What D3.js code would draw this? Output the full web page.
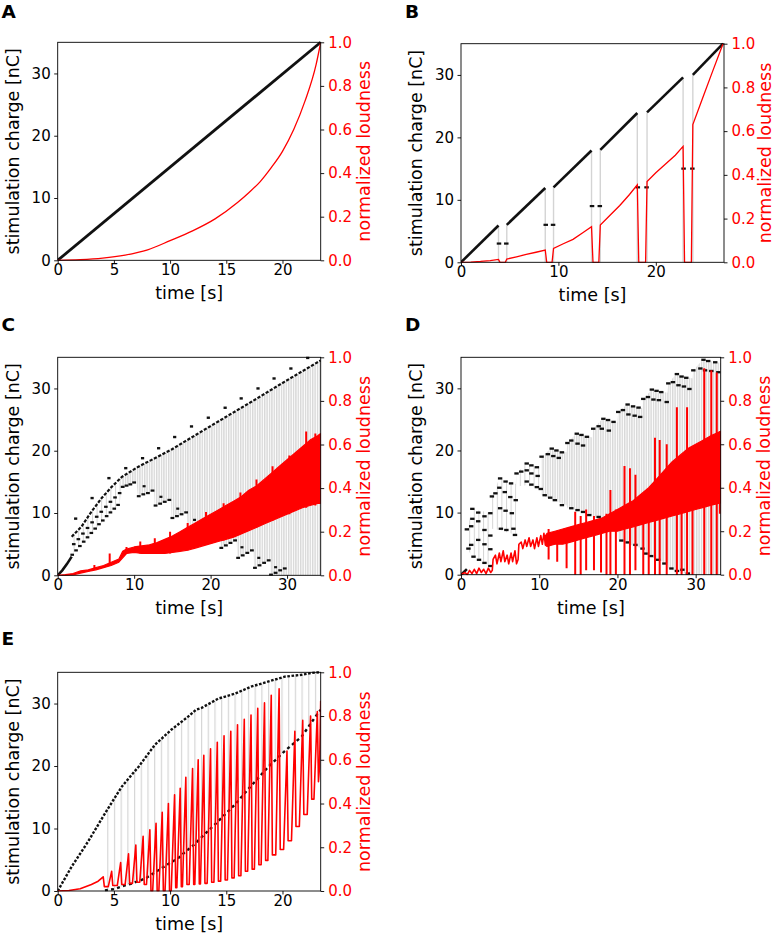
<!DOCTYPE html>
<html>
<head>
<meta charset="utf-8">
<script src="https://cdn.jsdelivr.net/npm/d3@7"></script>
<style>
body { margin: 0; background: #fff; }
svg text { font-family: "DejaVu Sans", sans-serif; }
</style>
</head>
<body>
<div id="chart"></div>
<script>
// ---------------- data ----------------
// A: linear ramp
var aStim = [[0, 0], [23.4, 35]];
var aLoudT = [0,2,4,6,8,10,12,14,16,17,18,19,20,21,22,23,23.4];
var aLoudL = [0,0.003,0.01,0.024,0.048,0.09,0.135,0.19,0.265,0.31,0.36,0.425,0.5,0.6,0.73,0.9,1.0];

// B: ramps with pauses  [t0, q0, t1, q1]
var bSegs = [[0,0,3.85,5.9],[4.7,6.0,8.65,11.9],[9.5,12.0,13.4,17.9],[14.3,18.0,18.1,23.9],[19.1,24.0,22.8,29.6],[23.8,30.0,26.9,35.0]];
var bGapT = [[3.9,4.65],[8.7,9.45],[13.45,14.25],[18.15,19.05],[22.85,23.75]];
var bGapQ = [3, 6, 9, 12, 15];
var bLoud = [[0,0],[1,0.001],[2,0.004],[3,0.008],[3.85,0.013],[4.0,0],[4.55,0],[4.7,0.015],[5.7,0.025],[6.7,0.036],[7.7,0.046],[8.65,0.056],[8.8,0],[9.35,0],[9.5,0.064],[10.5,0.085],[11.5,0.105],[12.5,0.135],[13.4,0.163],[13.55,0],[14.15,0],[14.3,0.17],[15.3,0.215],[16.3,0.26],[17.3,0.31],[18.1,0.354],[18.25,0],[18.95,0],[19.1,0.369],[20.0,0.41],[21.0,0.45],[22.0,0.49],[22.8,0.53],[22.95,0],[23.65,0],[23.8,0.63],[24.8,0.75],[25.8,0.87],[26.9,1.0]];

// C
var cRamp = [[0,0],[0.6,0.8],[1.2,1.8],[1.83,3.0]];
var cUpper = [[1.83,6.2],[3.1,7.8],[4.4,10.2],[5.75,12.4],[7.06,14.2],[8.4,15.8],[10.5,17.4],[12.7,18.8],[14.9,20.2],[16.65,21.5],[21.0,24.7],[25.4,27.9],[29.7,31.1],[34.4,34.5]];
var cUpperDots = [[2.35,9.1],[4.5,12.4],[6.7,15.6],[8.9,17.2],[11.1,18.8],[13.2,20.4],[15.3,22.2],[17.5,23.9],[19.7,25.3],[21.9,26.9],[24.0,28.4],[26.2,30.0],[28.3,31.6],[30.5,33.2],[32.7,34.9]];
var cRow2 = [[2.1,5.0],[2.7,5.8],[3.3,6.7],[3.9,7.6],[4.5,8.5],[5.1,9.4],[5.7,10.2],[6.3,11.0],[6.9,11.8],[7.5,12.5],[8.1,13.2]];
var cMiddle = [[1.9,3.3],[2.4,4.0],[2.9,4.7],[3.4,5.4],[3.9,6.1],[4.4,6.8],[4.9,7.5],[5.4,8.2],[5.9,8.8],[6.4,9.5],[6.9,10.1],[7.4,10.7],[7.9,11.3]];
var cLower = [[8.5,14.2],[9.0,14.4],[9.5,14.6],[10.0,14.9],
  [10.6,12.7],[11.2,13.0],[11.8,13.2],[12.4,13.6],
  [12.8,11.2],[13.4,11.5],[14.0,11.8],[14.6,12.1],
  [15.0,9.2],[15.6,9.5],[16.2,9.8],[16.8,10.1],
  [17.1,7.4],[17.7,7.7],[18.3,8.0],[18.9,8.3],
  [19.3,5.9],[19.9,6.2],[20.5,6.5],[21.0,6.8],
  [21.4,4.4],[22.0,4.8],[22.6,5.2],[23.2,5.6],
  [23.6,2.8],[24.2,3.2],[24.8,3.6],[25.4,4.0],
  [25.8,1.2],[26.4,1.6],[27.0,2.0],[27.6,2.4],
  [27.9,0.1],[28.5,0.4],[29.1,0.8],[29.7,1.1]];
var cLowerDots = [[11.3,14.3],[13.5,12.6],[15.7,10.7],[17.9,8.9],[24.1,4.5],[26.3,2.8],[28.5,1.3]];
var cGrayBottomEarly = [[1.83,3.3],[8.1,11.6],[8.4,14.2]];
var cGrayBottomLate = [[8.4,14.2],[10.3,15.0],[10.5,12.7],[12.6,13.6],[12.7,11.2],[14.8,12.1],[14.9,9.2],[16.9,10.1],[17.0,7.4],[19.1,8.3],[19.2,5.9],[21.2,6.8],[21.3,4.4],[23.4,5.6],[23.5,2.8],[25.6,4.0],[25.7,1.2],[27.8,2.4],[27.85,0],[34.4,0]];
var cLoudT  = [0,1,2,3,4,5,6,7,8,8.5,9,10,11,12,13,14,15,16,17,18,19,20,21,22,23,24,25,26,27,28,29,30,31,32,33,34,34.4];
var cLoudHi = [0,0.003,0.008,0.02,0.025,0.035,0.045,0.06,0.075,0.11,0.12,0.13,0.135,0.14,0.15,0.165,0.18,0.2,0.22,0.24,0.26,0.28,0.3,0.32,0.34,0.36,0.39,0.41,0.44,0.47,0.5,0.53,0.56,0.59,0.62,0.64,0.65];
var cLoudLo = [0,0,0.002,0.01,0.018,0.025,0.035,0.045,0.06,0.08,0.1,0.105,0.1,0.1,0.1,0.1,0.105,0.11,0.115,0.125,0.135,0.145,0.155,0.165,0.175,0.19,0.205,0.22,0.235,0.25,0.265,0.28,0.295,0.31,0.32,0.33,0.33];
// [t, bottom, top]
var cSpikes = [[4.8,0.025,0.047],[6.8,0.045,0.1],[9.0,0.1,0.13],[10.8,0.1,0.155],[12.7,0.1,0.17],[14.7,0.1,0.2],[17.0,0.115,0.24],[19.4,0.14,0.29],[21.7,0.16,0.33],[23.9,0.19,0.38],[26.0,0.22,0.44],[28.1,0.25,0.5],[30.3,0.28,0.55],[32.5,0.31,0.66],[33.7,0.32,0.65]];

// D
var dRamp = [[0,0],[0.75,0.9]];
var dDashes = [
  [0.75,7.3],[1.3,7.8],[1.45,10.6],[2.2,10.0],[3.0,9.4],[3.75,9.9],
  [1.45,9.0],[2.2,8.6],[3.0,7.2],[3.75,6.3],
  [0.95,4.2],[1.3,4.8],[2.2,5.6],[3.0,4.9],[3.75,4.1],
  [1.6,2.9],[2.3,2.4],[3.0,1.9],[3.75,1.4],
  [3.95,12.6],[4.4,13.1],[5.0,15.5],[5.7,15.0],[6.4,14.7],
  [4.9,14.0],[5.6,13.3],[6.3,12.5],[7.0,12.0],
  [5.0,10.7],[5.7,10.3],[6.5,9.9],
  [5.1,7.4],[5.8,7.2],[6.7,7.4],[6.9,6.4],
  [7.1,16.3],[7.7,16.6],[8.4,17.9],[9.0,17.6],[9.7,17.3],
  [8.4,16.8],[9.0,16.3],[9.8,15.9],
  [8.4,15.0],[9.0,14.5],[9.7,14.1],[10.2,13.8],
  [10.3,19.0],[11.1,19.4],[11.6,20.3],[12.2,20.0],[12.9,19.7],
  [11.8,19.1],[12.5,18.8],
  [10.7,12.8],[11.4,12.4],[12.0,12.0],[12.9,11.2],
  [13.6,21.2],[14.1,21.6],[14.8,22.7],[15.4,22.5],[16.1,22.2],
  [14.9,21.1],[15.6,20.8],
  [14.1,10.7],[14.9,10.4],[15.6,10.1],[16.4,9.6],
  [16.9,23.5],[17.6,23.9],[18.2,25.1],[18.8,24.9],[19.5,24.6],
  [18.0,23.5],[18.9,23.2],
  [17.6,9.3],[18.6,8.6],[19.2,8.0],[19.8,7.5],
  [20.1,26.2],[20.7,26.5],[21.3,27.4],[22.0,27.1],[22.7,26.9],
  [21.4,25.8],[22.2,25.6],[22.9,25.4],
  [20.5,5.5],[21.3,5.2],[22.3,4.8],[23.2,4.2],
  [23.3,28.3],[23.9,28.6],[24.4,29.8],[25.0,29.6],[25.6,29.4],
  [24.6,28.2],[25.3,28.1],[26.3,27.8],
  [23.6,3.4],[24.3,3.0],[25.2,2.4],[26.0,1.8],
  [26.5,30.8],[27.1,31.0],[27.6,32.3],[28.2,31.9],[28.8,31.7],
  [27.8,30.5],[28.5,30.3],[29.2,29.9],
  [26.9,1.0],[27.6,0.6],[28.3,0.8],[29.0,0.2],
  [29.7,32.9],[30.6,33.2],[31.0,34.6],[31.6,34.4],[32.5,34.2],
  [31.2,32.9],[32.0,32.8],[32.9,32.6]
];
var dGrayT   = [0.8,1.4,3.9,3.95,4.9,7.0,7.1,8.3,10.2,10.3,11.5,13.5,13.6,14.7,16.8,16.9,18.1,20.0,20.1,21.2,23.2,23.3,24.4,26.4,26.5,27.5,29.6,29.7,30.9,33.2];
var dGrayTop = [7.3,10.6,9.9,12.6,15.5,14.6,16.3,17.9,17.3,19.0,20.3,19.7,21.2,22.7,22.1,23.5,25.1,24.5,26.2,27.4,26.8,28.3,29.8,29.3,30.8,32.3,31.6,32.9,34.6,34.1];
var dGrayBot = [4.3,2.9,1.4,7.4,7.2,6.4,14.2,14.4,13.8,12.8,12.2,11.2,10.7,10.4,9.6,9.3,8.8,7.5,5.6,5.0,4.2,3.4,2.8,1.8,1.0,0.5,0,0,0,0];
// early jagged loudness trace (t < 10.8)
var dLoudEarly = [[0,0],[0.5,0.01],[0.8,0],[1.1,0.02],[1.4,0.005],[1.7,0.025],[2.0,0.005],[2.3,0.03],[2.6,0.01],[2.9,0.025],[3.2,0.005],[3.5,0.03],[3.8,0.01],[4.0,0.02],
  [4.1,0.07],[4.4,0.09],[4.6,0.05],[4.9,0.1],[5.1,0.06],[5.4,0.11],[5.6,0.06],[5.9,0.09],[6.1,0.05],[6.4,0.1],[6.6,0.06],[6.9,0.11],[7.1,0.05],[7.3,0.07],
  [7.4,0.14],[7.7,0.15],[7.9,0.12],[8.2,0.16],[8.4,0.13],[8.7,0.17],[8.9,0.13],[9.2,0.16],[9.4,0.12],[9.7,0.17],[9.9,0.13],[10.2,0.18],[10.4,0.14],[10.6,0.19],[10.8,0.135]];
var dLoudT  = [10.8,11,12,13,14,15,16,17,18,19,20,21,22,23,24,25,26,27,28,29,30,31,32,33.2];
var dLoudHi = [0.18,0.19,0.2,0.21,0.22,0.23,0.24,0.25,0.26,0.28,0.3,0.32,0.34,0.37,0.4,0.44,0.48,0.52,0.55,0.58,0.6,0.62,0.64,0.66];
var dLoudLo = [0.135,0.13,0.14,0.14,0.15,0.16,0.17,0.18,0.19,0.2,0.2,0.21,0.22,0.23,0.24,0.25,0.26,0.27,0.28,0.29,0.3,0.31,0.32,0.33];
var dSpikes = [[11.2,0.07,0.21],[12.3,0.06,0.2],[13.5,0.03,0.2],[14.6,0,0.29],[15.3,0,0.27],[16.0,0.02,0.3],[17.0,0.02,0.27],[17.9,0.01,0.26],[18.6,0,0.28],[19.1,0,0.39],[19.8,0,0.3],[20.9,0,0.5],[21.6,0,0.49],[22.3,0.02,0.46],[23.3,0,0.34],[24.0,0,0.37],[24.8,0,0.63],[25.4,0,0.62],[26.3,0,0.6],[27.6,0,0.77],[28.2,0,0.5],[28.9,0,0.77],[29.6,0,0.55],[31.1,0,0.95],[32.0,0,0.94],[32.7,0,0.93],[33.1,0.28,0.66]];

// E
var eUpper = [[0,0],[1.24,3.9],[2.7,7.9],[4.2,12.4],[5.7,16.7],[7.2,19.9],[8.65,23.4],[10.1,25.8],[11.6,27.9],[12.3,29.0],[12.8,29.3],[14.3,30.8],[15.8,31.6],[17.2,32.7],[18.7,33.5],[20.2,34.3],[21.7,34.6],[22.6,34.9],[23.3,35.0]];
var eLower = [[4.2,0.1],[5.0,0.3],[5.8,0.8],[6.6,1.2],[7.8,2.0],[8.5,2.8],[9.2,3.6],[10.0,4.5],[10.7,5.2],[11.3,6.2],[12.0,7.2],[12.8,8.6],[14.3,11.2],[15.8,13.9],[17.2,16.8],[18.7,19.8],[20.2,22.4],[21.7,24.7],[22.9,27.8],[23.4,29.0]];
var eRise = [[0,0],[1,0.002],[2,0.01],[3,0.03],[3.6,0.045]];
// [t, top, bottom]
var eSpikes = [[4.05,0.065,0.02],[4.8,0.09,0.025],[5.6,0.13,0.03],[6.3,0.17,0.035],[6.95,0.21,0.04],[7.6,0.25,0.03],[8.2,0.28,0],[8.75,0.31,0],[9.3,0.36,0],[9.85,0.40,0],[10.4,0.44,0.015],[10.9,0.47,0.02],[11.4,0.52,0.03],[12.0,0.56,0.03],[12.5,0.60,0.032],[13.0,0.62,0.035],[13.6,0.65,0.04],[14.2,0.68,0.045],[14.8,0.71,0.05],[15.4,0.73,0.06],[16.0,0.76,0.07],[16.6,0.785,0.09],[17.2,0.805,0.10],[17.8,0.835,0.12],[18.4,0.86,0.14],[19.0,0.895,0.165],[19.7,0.925,0.19],[20.4,0.64,0.23],[21.1,0.73,0.295],[21.8,0.78,0.35],[22.5,0.80,0.42],[23.1,0.82,0.5]];
var eEnd = [[23.3,0.57],[23.4,0.87]];

var chargeTicks = [0, 10, 20, 30];
var loudTicks = [0, 0.2, 0.4, 0.6, 0.8, 1.0];

// ---------------- layout ----------------
var frames = {
  A: {x0: 57.7, x1: 320.7, y0: 42.3, y1: 260.3, tMax: 23.4, ticks: [0,5,10,15,20], lx: 1.5, ly: 18.3, rOff: 49},
  B: {x0: 461, x1: 724, y0: 43.7, y1: 262.3, tMax: 27.0, ticks: [0,10,20], lx: 405, ly: 18.3, rOff: 46.5},
  C: {x0: 57.7, x1: 320.7, y0: 357.3, y1: 575.3, tMax: 34.4, ticks: [0,10,20,30], lx: 1.5, ly: 331, rOff: 49},
  D: {x0: 461, x1: 720.7, y0: 357.3, y1: 574.7, tMax: 33.2, ticks: [0,10,20,30], lx: 405, ly: 331, rOff: 49},
  E: {x0: 57.7, x1: 320.7, y0: 672.3, y1: 891, tMax: 23.4, ticks: [0,5,10,15,20], lx: 1.5, ly: 645, rOff: 49}
};

var RED = "#ff0000", INK = "#111";

var svg = d3.select("#chart").append("svg")
  .attr("width", 775)
  .attr("height", 936);
var defs = svg.append("defs");

function stripes(id, w, lw, color) {
  defs.append("pattern").attr("id", id)
    .attr("patternUnits", "userSpaceOnUse")
    .attr("width", w).attr("height", 10)
    .append("rect").attr("width", lw).attr("height", 10).attr("fill", color);
}
stripes("dense", 2.4, 1.4, "#d8d8d8");
stripes("sparse", 4.6, 1.0, "#d4d4d4");
stripes("eLines", 6.7, 1.2, "#d6d6d6");

function makePanel(key) {
  var f = frames[key];
  var p = {key: key, f: f};
  p.x = d3.scaleLinear().domain([0, f.tMax]).range([f.x0, f.x1]);
  p.q = d3.scaleLinear().domain([0, 35]).range([f.y1, f.y0]);
  p.L = d3.scaleLinear().domain([0, 1]).range([f.y1, f.y0]);
  defs.append("clipPath").attr("id", "clip" + key).append("rect")
    .attr("x", f.x0).attr("y", f.y0 - 1.5)
    .attr("width", f.x1 - f.x0).attr("height", f.y1 - f.y0 + 2);
  p.g = svg.append("g").attr("clip-path", "url(#clip" + key + ")");
  p.qLine = d3.line().x(d => p.x(d[0])).y(d => p.q(d[1]));
  p.lLine = d3.line().x(d => p.x(d[0])).y(d => p.L(d[1]));
  return p;
}

function grayPoly(p, top, bottom, fill) {
  p.g.append("path")
    .attr("d", p.qLine(top.concat(bottom.slice().reverse())) + "Z")
    .attr("fill", fill);
}

function dashPath(p, pts, w, dash) {
  p.g.append("path").datum(pts)
    .attr("d", p.qLine)
    .attr("fill", "none")
    .attr("stroke", INK)
    .attr("stroke-width", w)
    .attr("stroke-dasharray", dash);
}

function marks(p, pts, w, h) {
  p.g.selectAll(null).data(pts).enter().append("rect")
    .attr("x", d => p.x(d[0]) - w / 2)
    .attr("y", d => p.q(d[1]) - h / 2)
    .attr("width", w).attr("height", h)
    .attr("fill", INK);
}

function redBand(p, T, hi, lo) {
  var pts = T.map((t, i) => [t, lo[i], hi[i]]);
  var area = d3.area().x(d => p.x(d[0])).y0(d => p.L(d[1])).y1(d => p.L(d[2]));
  p.g.append("path").datum(pts).attr("d", area)
    .attr("fill", RED).attr("stroke", RED).attr("stroke-width", 1.2)
    .attr("stroke-linejoin", "round");
}

function redSpikes(p, spikes) {
  p.g.selectAll(null).data(spikes).enter().append("line")
    .attr("x1", d => p.x(d[0])).attr("x2", d => p.x(d[0]))
    .attr("y1", d => p.L(d[1])).attr("y2", d => p.L(d[2]))
    .attr("stroke", RED).attr("stroke-width", 2);
}

function drawAxes(p) {
  var f = p.f;
  var ax = svg.append("g");
  ax.append("rect")
    .attr("x", f.x0).attr("y", f.y0)
    .attr("width", f.x1 - f.x0).attr("height", f.y1 - f.y0)
    .attr("fill", "none").attr("stroke", "#000").attr("stroke-width", 0.9);

  var bx = ax.append("g").attr("transform", `translate(0,${f.y1})`)
    .call(d3.axisBottom(p.x).tickValues(f.ticks).tickSize(3.5).tickPadding(1).tickFormat(d3.format("d")));
  var ly = ax.append("g").attr("transform", `translate(${f.x0},0)`)
    .call(d3.axisLeft(p.q).tickValues(chargeTicks).tickSize(3.5).tickPadding(3.5).tickFormat(d3.format("d")));
  var ry = ax.append("g").attr("transform", `translate(${f.x1},0)`)
    .call(d3.axisRight(p.L).tickValues(loudTicks).tickSize(3.5).tickPadding(4).tickFormat(d3.format(".1f")));
  [bx, ly, ry].forEach(function(a) {
    a.select(".domain").remove();
    a.attr("font-size", 15).attr("font-family", "DejaVu Sans").attr("color", "#000");
    a.selectAll("line").attr("stroke-width", 0.9);
  });
  ry.selectAll("text").attr("fill", RED);

  ax.append("text")
    .attr("x", (f.x0 + f.x1) / 2).attr("y", f.y1 + 39)
    .attr("text-anchor", "middle").attr("font-size", 17.5).attr("fill", "#000")
    .text("time [s]");
  ax.append("text")
    .attr("transform", `translate(${f.x0 - 39},${(f.y0 + f.y1) / 2}) rotate(-90)`)
    .attr("text-anchor", "middle").attr("font-size", 17.5).attr("fill", "#000")
    .text("stimulation charge [nC]");
  ax.append("text")
    .attr("transform", `translate(${f.x1 + f.rOff},${(f.y0 + f.y1) / 2}) rotate(-90)`)
    .attr("text-anchor", "middle").attr("font-size", 17.5).attr("fill", RED)
    .text("normalized loudness");
  ax.append("text")
    .attr("x", f.lx).attr("y", f.ly)
    .attr("font-family", "'Open Sans', 'DejaVu Sans', sans-serif")
    .attr("font-weight", 700).attr("font-size", 18.5).attr("fill", "#000")
    .text(p.key);
}

// ---------------- A ----------------
var pA = makePanel("A");
pA.g.append("path").datum(aStim).attr("d", pA.qLine)
  .attr("fill", "none").attr("stroke", INK).attr("stroke-width", 2.8);
pA.g.append("path").datum(aLoudT.map((t, i) => [t, aLoudL[i]]))
  .attr("d", pA.lLine.curve(d3.curveMonotoneX))
  .attr("fill", "none").attr("stroke", RED).attr("stroke-width", 1.3);
drawAxes(pA);

// ---------------- B ----------------
var pB = makePanel("B");
var bGray = bSegs.slice(0, -1).map(s => [s[2], s[3]])
  .concat(bSegs.slice(1).map(s => [s[0], s[1]]));
pB.g.selectAll(null).data(bGray).enter().append("line")
  .attr("x1", d => pB.x(d[0])).attr("x2", d => pB.x(d[0]))
  .attr("y1", pB.q(0)).attr("y2", d => pB.q(d[1]))
  .attr("stroke", "#d4d4d4").attr("stroke-width", 1.4);
pB.g.selectAll(null).data(bSegs).enter().append("line")
  .attr("x1", d => pB.x(d[0])).attr("y1", d => pB.q(d[1]))
  .attr("x2", d => pB.x(d[2])).attr("y2", d => pB.q(d[3]))
  .attr("stroke", INK).attr("stroke-width", 2.6);
var bGapMarks = [];
bGapT.forEach(function(pair, i) { pair.forEach(t => bGapMarks.push([t, bGapQ[i]])); });
marks(pB, bGapMarks, 4.5, 2.2);
pB.g.append("path").datum(bLoud).attr("d", pB.lLine)
  .attr("fill", "none").attr("stroke", RED).attr("stroke-width", 1.3);
drawAxes(pB);

// ---------------- C ----------------
var pC = makePanel("C");
grayPoly(pC, cUpper.filter(d => d[0] <= 8.4), cGrayBottomEarly, "url(#sparse)");
grayPoly(pC, cUpper.filter(d => d[0] >= 8.4), cGrayBottomLate, "url(#dense)");
pC.g.append("path").datum(cRamp).attr("d", pC.qLine)
  .attr("fill", "none").attr("stroke", INK).attr("stroke-width", 2.6);
dashPath(pC, cUpper, 2.2, "3.2 1.6");
marks(pC, cUpperDots, 3.2, 2.4);
marks(pC, cRow2, 3.6, 2.2);
marks(pC, cMiddle, 3.6, 2.2);
marks(pC, cLower, 3.8, 2.2);
marks(pC, cLowerDots, 3.0, 2.2);
redBand(pC, cLoudT, cLoudHi, cLoudLo);
redSpikes(pC, cSpikes);
drawAxes(pC);

// ---------------- D ----------------
var pD = makePanel("D");
var dGrayRows = dGrayT.map((t, i) => ({t: t, top: dGrayTop[i], bot: dGrayBot[i]}));
function dGrayArea(rows, fill) {
  var area = d3.area().x(d => pD.x(d.t)).y0(d => pD.q(d.bot)).y1(d => pD.q(d.top));
  pD.g.append("path").datum(rows).attr("d", area).attr("fill", fill);
}
dGrayArea(dGrayRows.filter(d => d.t <= 10.2), "url(#sparse)");
dGrayArea(dGrayRows.filter(d => d.t >= 10.3), "url(#dense)");
pD.g.append("path").datum(dRamp).attr("d", pD.qLine)
  .attr("fill", "none").attr("stroke", INK).attr("stroke-width", 2.6);
marks(pD, dDashes, 4.4, 2.3);
pD.g.append("path").datum(dLoudEarly).attr("d", pD.lLine)
  .attr("fill", "none").attr("stroke", RED).attr("stroke-width", 1.6)
  .attr("stroke-linejoin", "round");
redBand(pD, dLoudT, dLoudHi, dLoudLo);
redSpikes(pD, dSpikes);
drawAxes(pD);

// ---------------- E ----------------
var pE = makePanel("E");
grayPoly(pE, eUpper.filter(d => d[0] >= 4.2), eLower, "url(#eLines)");
dashPath(pE, eUpper, 2.4, "2.6 1.6");
dashPath(pE, eLower, 2.4, "3 3.2");
var ePath = eRise.slice();
eSpikes.forEach(function(s, i) {
  if (i > 0) ePath.push([s[0] - 0.3, eSpikes[i - 1][2]]);
  ePath.push([s[0], s[1]]);
  ePath.push([s[0] + 0.1, s[2]]);
});
ePath = ePath.concat(eEnd);
pE.g.append("path").datum(ePath).attr("d", pE.lLine)
  .attr("fill", "none").attr("stroke", RED).attr("stroke-width", 1.6)
  .attr("stroke-linejoin", "round");
drawAxes(pE);
</script>
</body>
</html>
